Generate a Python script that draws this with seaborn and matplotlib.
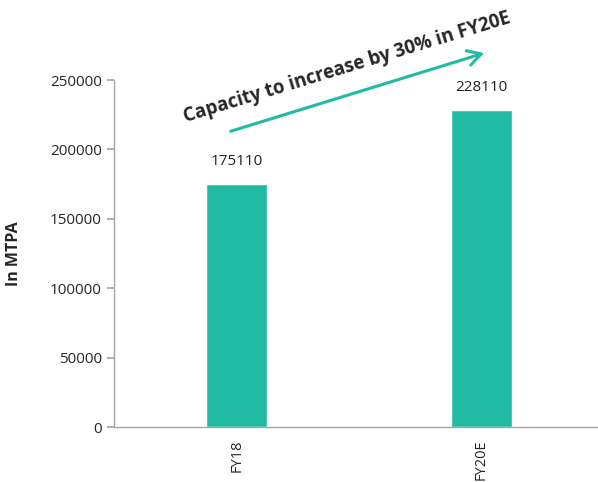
import matplotlib
matplotlib.use('Agg')
import matplotlib.pyplot as plt
import seaborn as sns
import pandas as pd

# 数据
years = ['FY18', 'FY20E']
capacity = [175110, 228110]
yticks = [0, 50000, 100000, 150000, 200000, 250000]
bar_color = '#21BBA3'

sns.set_theme(style='white')
plt.rcParams['font.family'] = ['Open Sans', 'DejaVu Sans']

df = pd.DataFrame({'year': years, 'capacity': capacity})

fig = plt.figure(figsize=(5.98, 4.82), dpi=100)
ax = fig.add_axes([0.191, 0.114, 0.809, 0.72])

sns.barplot(data=df, x='year', y='capacity', color=bar_color, width=0.25,
            saturation=1, ax=ax)

ax.set_ylim(0, 250000)
ax.set_xlim(-0.5, 1.476)
ax.set_yticks(yticks)
ax.set_yticklabels([str(v) for v in yticks], fontsize=11)
ax.set_xticks([0, 1])
ax.set_xticklabels(years, rotation=90, fontsize=10.5)
ax.set_xticks([-0.5, 0.5], minor=True)
ax.tick_params(axis='x', which='major', length=0, pad=9)
ax.tick_params(axis='x', which='minor', length=5, color='#a6a6a6', direction='out')
ax.tick_params(axis='y', length=5, color='#a6a6a6', direction='out', left=True, pad=4)

for side in ['top', 'right']:
    ax.spines[side].set_visible(False)
for side in ['left', 'bottom']:
    ax.spines[side].set_color('#a6a6a6')
    ax.spines[side].set_linewidth(1)

ax.set_xlabel('')
ax.set_ylabel('In MTPA', fontsize=11.5, fontweight='bold', labelpad=20)

# 柱顶数值
for i, v in enumerate(capacity):
    ax.text(i, v + 11000, str(v), ha='center', va='bottom', fontsize=11, color='#222222')

# 增长箭头
ax.annotate('', xy=(1.022, 270000), xytext=(-0.035, 212500),
            xycoords='data', annotation_clip=False,
            arrowprops=dict(arrowstyle='->,head_length=0.8,head_width=0.45',
                            color=bar_color, lw=2.2))
ax.text(0.45, 259000, 'Capacity to increase by 30% in FY20E', rotation=17,
        ha='center', va='center', fontsize=13.5, fontweight='bold',
        rotation_mode='anchor', clip_on=False)

fig.savefig('out.png', dpi=100)
